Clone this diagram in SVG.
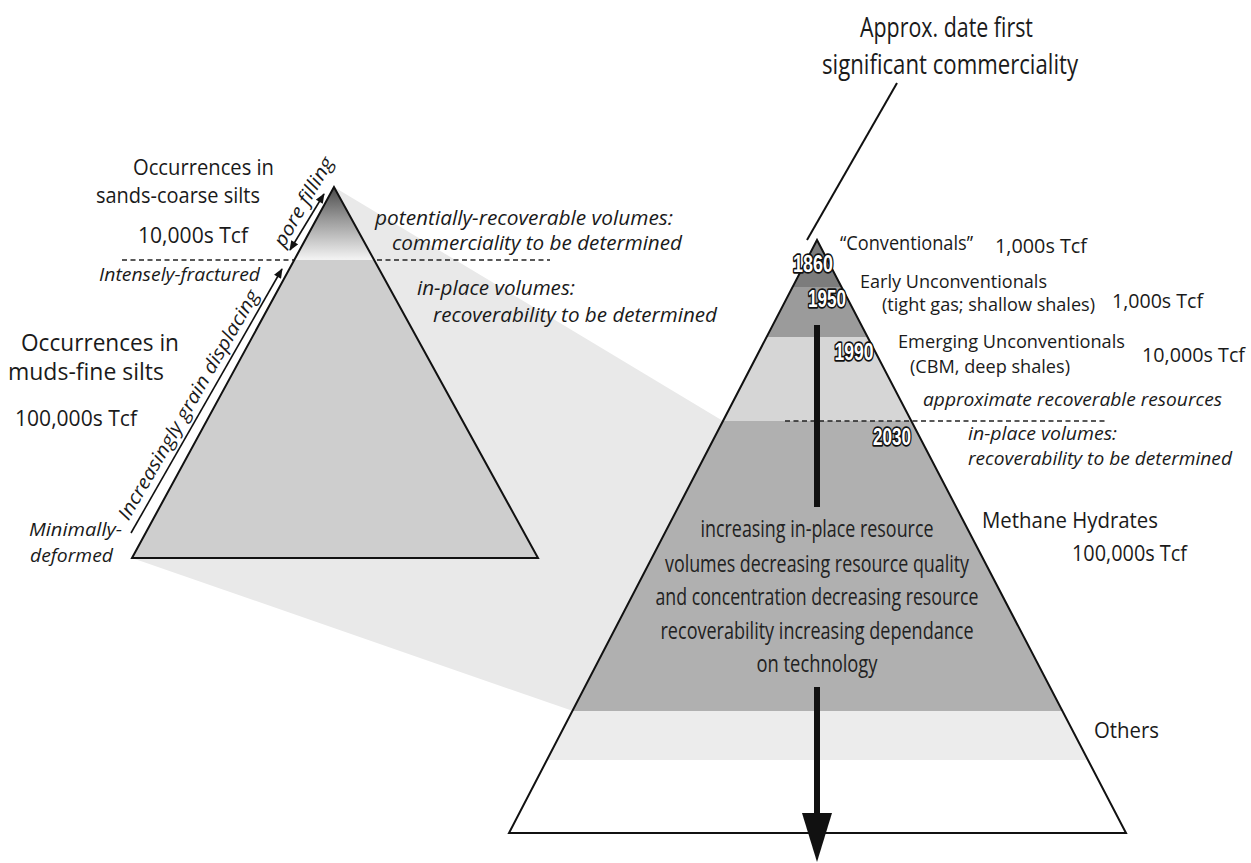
<svg xmlns="http://www.w3.org/2000/svg" width="1251" height="863" viewBox="0 0 1251 863">
<defs>
<style>
text{font-family:"Open Sans","Liberation Sans",sans-serif;fill:#1a1a1a;}
.r{font-size:21px;}
.i{font-size:19px;font-style:italic;}
.c{font-size:24px;text-anchor:middle;fill:#222;}
.yr{font-family:"Liberation Sans",Arial,sans-serif;font-size:24px;font-weight:bold;fill:#fff;stroke:#111;stroke-width:3.4px;paint-order:stroke;stroke-linejoin:round;}
.edge{fill:none;stroke:#111;stroke-width:2;stroke-linejoin:miter;}
.dash{stroke:#222;stroke-width:1.3;stroke-dasharray:5 3.5;fill:none;}
.thin{stroke:#111;stroke-width:1.6;fill:none;}
</style>
<linearGradient id="topg" x1="0" y1="187" x2="0" y2="259" gradientUnits="userSpaceOnUse">
<stop offset="0" stop-color="#4a4a4a"/>
<stop offset="0.45" stop-color="#9a9a9a"/>
<stop offset="1" stop-color="#f2f2f2"/>
</linearGradient>
<clipPath id="lclip"><polygon points="334,187 132,558 538,558"/></clipPath>
<clipPath id="rclip"><polygon points="817,240 509,833 1126,833"/></clipPath>
<marker id="ah" viewBox="0 0 10 8" refX="9" refY="4" markerWidth="11" markerHeight="8" markerUnits="userSpaceOnUse" orient="auto-start-reverse">
<path d="M0,0 L10,4 L0,8 Z" fill="#111"/>
</marker>
</defs>
<rect width="1251" height="863" fill="#fff"/>

<g id="projection">
<polygon points="334,187 723,421 573,711 132,558" fill="#e9e9e9"/>
</g>

<g id="left-pyramid">
<line class="dash" x1="122" y1="260" x2="550" y2="260"/>
<g clip-path="url(#lclip)">
<rect x="120" y="180" width="430" height="80" fill="url(#topg)"/>
<rect x="120" y="260" width="430" height="300" fill="#cecece"/>
</g>
<polygon class="edge" points="334,187 132,558 538,558"/>
</g>

<g id="right-pyramid">
<g clip-path="url(#rclip)">
<rect x="500" y="235" width="640" height="52" fill="#7c7c7c"/>
<rect x="500" y="287" width="640" height="50" fill="#9b9b9b"/>
<rect x="500" y="337" width="640" height="84" fill="#d6d6d6"/>
<rect x="500" y="421" width="640" height="290" fill="#b0b0b0"/>
<rect x="500" y="711" width="640" height="49" fill="#ececec"/>
<rect x="500" y="760" width="640" height="80" fill="#ffffff"/>
</g>
<line class="dash" x1="785" y1="421" x2="1108" y2="421"/>
<polygon class="edge" points="817,240 509,833 1126,833"/>
</g>

<g id="connectors">
<line x1="897" y1="83" x2="807" y2="240" stroke="#111" stroke-width="2"/>
<line class="thin" x1="290" y1="250" x2="324" y2="194" marker-start="url(#ah)" marker-end="url(#ah)"/>
<line class="thin" x1="131" y1="533" x2="282" y2="269" marker-end="url(#ah)"/>
<line x1="817" y1="325" x2="817" y2="507" stroke="#111" stroke-width="6"/>
<line x1="817" y1="687" x2="817" y2="815" stroke="#111" stroke-width="6"/>
<polygon points="802,813 832,813 817,862" fill="#111"/>
</g>

<g id="title">
<text class="r" style="font-size:27px" x="860" y="37" textLength="173" lengthAdjust="spacingAndGlyphs">Approx. date first</text>
<text class="r" style="font-size:27px" x="822" y="74" textLength="256" lengthAdjust="spacingAndGlyphs">significant commerciality</text>
</g>

<g id="left-labels">
<text class="r" x="133" y="175" textLength="141" lengthAdjust="spacingAndGlyphs">Occurrences in</text>
<text class="r" x="96" y="203" textLength="164" lengthAdjust="spacingAndGlyphs">sands-coarse silts</text>
<text class="r" x="138" y="243" textLength="110" lengthAdjust="spacingAndGlyphs">10,000s Tcf</text>
<text class="i" style="font-size:18px" x="99" y="281" textLength="161" lengthAdjust="spacingAndGlyphs">Intensely-fractured</text>
<text class="r" style="font-size:23px" x="21" y="351" textLength="158" lengthAdjust="spacingAndGlyphs">Occurrences in</text>
<text class="r" style="font-size:23px" x="8" y="380" textLength="156" lengthAdjust="spacingAndGlyphs">muds-fine silts</text>
<text class="r" x="15" y="426" textLength="122" lengthAdjust="spacingAndGlyphs">100,000s Tcf</text>
<text class="i" x="29" y="536" textLength="93" lengthAdjust="spacingAndGlyphs">Minimally-</text>
<text class="i" x="30" y="562" textLength="83" lengthAdjust="spacingAndGlyphs">deformed</text>
<text class="i" x="0" y="0" text-anchor="middle" transform="translate(194,408) rotate(-60)" textLength="262" lengthAdjust="spacingAndGlyphs">Increasingly grain displacing</text>
<text class="i" x="0" y="0" text-anchor="middle" transform="translate(309,205) rotate(-60)" textLength="100" lengthAdjust="spacingAndGlyphs">pore filling</text>
</g>

<g id="middle-labels">
<text class="i" style="font-size:20px" x="375" y="225" textLength="298" lengthAdjust="spacingAndGlyphs">potentially-recoverable volumes:</text>
<text class="i" style="font-size:20px" x="392" y="250" textLength="290" lengthAdjust="spacingAndGlyphs">commerciality to be determined</text>
<text class="i" style="font-size:20px" x="417" y="295" textLength="158" lengthAdjust="spacingAndGlyphs">in-place volumes:</text>
<text class="i" style="font-size:20px" x="433" y="322" textLength="284" lengthAdjust="spacingAndGlyphs">recoverability to be determined</text>
</g>

<g id="right-labels">
<text class="r" style="font-size:20px" x="840" y="250" textLength="133" lengthAdjust="spacingAndGlyphs">“Conventionals”</text>
<text class="r" style="font-size:20px" x="995" y="253" textLength="92" lengthAdjust="spacingAndGlyphs">1,000s Tcf</text>
<text class="r" style="font-size:19px" x="860" y="288" textLength="187" lengthAdjust="spacingAndGlyphs">Early Unconventionals</text>
<text class="r" style="font-size:19px" x="882" y="311" textLength="213" lengthAdjust="spacingAndGlyphs">(tight gas; shallow shales)</text>
<text class="r" style="font-size:20px" x="1112" y="308" textLength="91" lengthAdjust="spacingAndGlyphs">1,000s Tcf</text>
<text class="r" style="font-size:19px" x="898" y="348" textLength="227" lengthAdjust="spacingAndGlyphs">Emerging Unconventionals</text>
<text class="r" style="font-size:20px" x="1142" y="362" textLength="103" lengthAdjust="spacingAndGlyphs">10,000s Tcf</text>
<text class="r" style="font-size:19px" x="910" y="373" textLength="160" lengthAdjust="spacingAndGlyphs">(CBM, deep shales)</text>
<text class="i" x="923" y="406" textLength="299" lengthAdjust="spacingAndGlyphs">approximate recoverable resources</text>
<text class="i" x="968" y="440" textLength="149" lengthAdjust="spacingAndGlyphs">in-place volumes:</text>
<text class="i" x="968" y="465" textLength="264" lengthAdjust="spacingAndGlyphs">recoverability to be determined</text>
<text class="r" x="982" y="528" textLength="176" lengthAdjust="spacingAndGlyphs">Methane Hydrates</text>
<text class="r" x="1072" y="561" textLength="115" lengthAdjust="spacingAndGlyphs">100,000s Tcf</text>
<text class="r" x="1094" y="738" textLength="65" lengthAdjust="spacingAndGlyphs">Others</text>
</g>

<g id="years">
<text class="yr" x="813" y="272" text-anchor="middle" textLength="40" lengthAdjust="spacingAndGlyphs">1860</text>
<text class="yr" x="827" y="307" text-anchor="middle" textLength="38" lengthAdjust="spacingAndGlyphs">1950</text>
<text class="yr" x="854" y="360" text-anchor="middle" textLength="39" lengthAdjust="spacingAndGlyphs">1990</text>
<text class="yr" x="892" y="445" text-anchor="middle" textLength="38" lengthAdjust="spacingAndGlyphs">2030</text>
</g>

<g id="center-text">
<text class="c" x="817" y="537" textLength="233" lengthAdjust="spacingAndGlyphs">increasing in-place resource</text>
<text class="c" x="817" y="572" textLength="304" lengthAdjust="spacingAndGlyphs">volumes decreasing resource quality</text>
<text class="c" x="817" y="605" textLength="323" lengthAdjust="spacingAndGlyphs">and concentration decreasing resource</text>
<text class="c" x="817" y="639" textLength="313" lengthAdjust="spacingAndGlyphs">recoverability increasing dependance</text>
<text class="c" x="817" y="672" textLength="121" lengthAdjust="spacingAndGlyphs">on technology</text>
</g>
</svg>
